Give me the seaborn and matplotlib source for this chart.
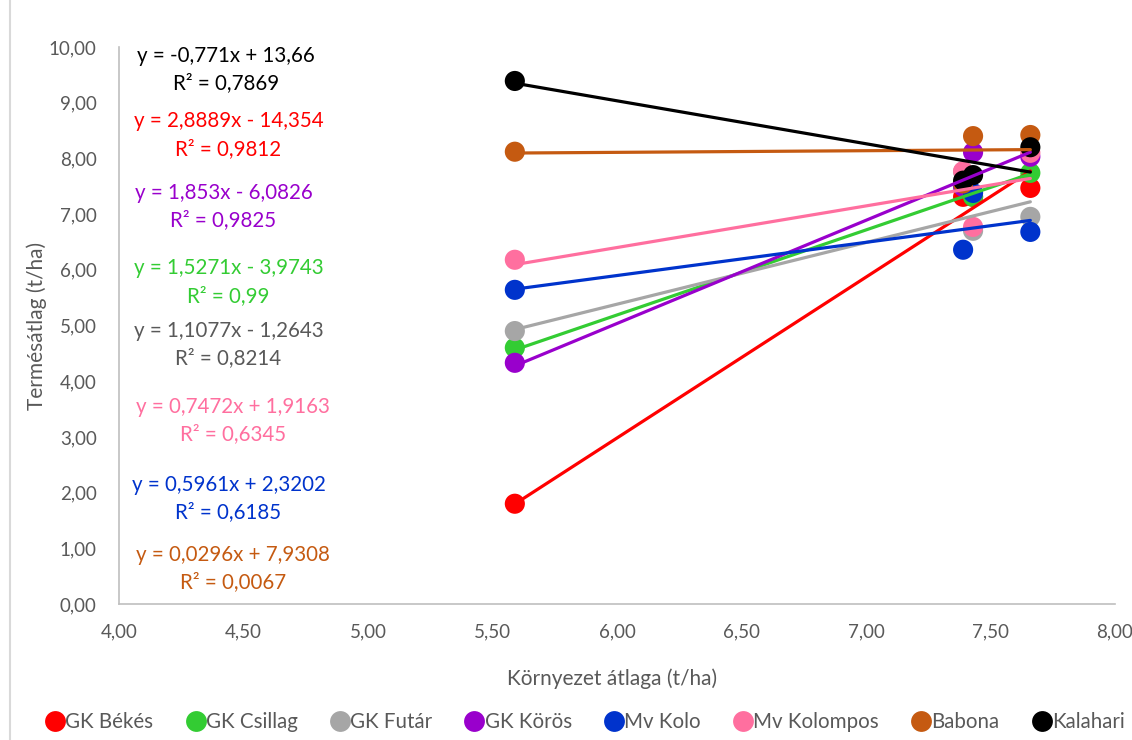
import numpy as np
import pandas as pd
import seaborn as sns
import matplotlib.pyplot as plt
from matplotlib.lines import Line2D
from matplotlib.ticker import FuncFormatter

# environment means (x) and variety yields (y), t/ha
env = [5.59, 7.39, 7.43, 7.66]
fajtak = ['GK Békés', 'GK Csillag', 'GK Futár', 'GK Körös', 'Mv Kolo', 'Mv Kolompos', 'Babona', 'Kalahari']
bekes = [1.80, 7.31, 7.31, 7.47]
csillag = [4.60, 7.50, 7.31, 7.74]
futar = [4.90, 7.76, 6.70, 6.95]
koros = [4.33, 7.49, 8.11, 8.03]
kolo = [5.64, 6.36, 7.38, 6.68]
kolompos = [6.18, 7.77, 6.77, 8.10]
babona = [8.12, 7.55, 8.40, 8.42]
kalahari = [9.39, 7.60, 7.70, 8.20]

# trendline equations shown on chart
meredek = [2.8889, 1.5271, 1.1077, 1.853, 0.5961, 0.7472, 0.0296, -0.771]
tengely = [-14.354, -3.9743, -1.2643, -6.0826, 2.3202, 1.9163, 7.9308, 13.66]
egyenlet = ['y = 2,8889x - 14,354\nR² = 0,9812',
            'y = 1,5271x - 3,9743\nR² = 0,99',
            'y = 1,1077x - 1,2643\nR² = 0,8214',
            'y = 1,853x - 6,0826\nR² = 0,9825',
            'y = 0,5961x + 2,3202\nR² = 0,6185',
            'y = 0,7472x + 1,9163\nR² = 0,6345',
            'y = 0,0296x + 7,9308\nR² = 0,0067',
            'y = -0,771x + 13,66\nR² = 0,7869']

szinek = ['#FF0000', '#33CC33', '#A6A6A6', '#9900CC', '#0033CC', '#FF6F9F', '#C55A11', '#000000']
szoveg_szin = ['#FF0000', '#33CC33', '#595959', '#9900CC', '#0033CC', '#FF6F9F', '#C55A11', '#000000']
# label positions (data coords)
szoveg_x = [4.44, 4.44, 4.44, 4.42, 4.44, 4.46, 4.46, 4.43]
szoveg_y = [8.42, 5.78, 4.65, 7.14, 1.90, 3.29, 0.64, 9.60]

df = pd.DataFrame({
    'x': env * len(fajtak),
    'y': bekes + csillag + futar + koros + kolo + kolompos + babona + kalahari,
    'fajta': np.repeat(fajtak, len(env)),
})

sns.set_style('white')
plt.rcParams['font.family'] = ['Lato', 'DejaVu Sans']

fig = plt.figure(figsize=(11.32, 7.4), dpi=100)
ax = fig.add_axes([0.105, 0.1838, 0.880, 0.7527])

# markers one series at a time so later series sit on top
for i, f in enumerate(fajtak):
    sns.scatterplot(data=df[df['fajta'] == f], x='x', y='y', color=szinek[i],
                    s=210, edgecolor='none', ax=ax, zorder=2 + i * 0.01, legend=False)

# trendlines
for i, f in enumerate(fajtak):
    xs = np.array([min(env), max(env)])
    tr = pd.DataFrame({'x': xs, 'y': meredek[i] * xs + tengely[i]})
    sns.lineplot(data=tr, x='x', y='y', color=szinek[i], lw=2.3, ax=ax, zorder=3)
    ax.text(szoveg_x[i], szoveg_y[i], egyenlet[i], color=szoveg_szin[i], fontsize=14.8,
            ha='center', va='center', linespacing=1.45, zorder=4)

ax.set_xlim(4, 8)
ax.set_ylim(0, 10)
ax.set_xticks(np.arange(4, 8.01, 0.5))
ax.set_yticks(np.arange(0, 10.01, 1))
fmt = FuncFormatter(lambda v, p: f'{v:.2f}'.replace('.', ','))
ax.xaxis.set_major_formatter(fmt)
ax.yaxis.set_major_formatter(fmt)
ax.tick_params(length=0, labelsize=13.5, labelcolor='#595959')
ax.tick_params(axis='y', pad=16)
ax.tick_params(axis='x', pad=14)
sns.despine(ax=ax)
for s in ['left', 'bottom']:
    ax.spines[s].set_color('#BFBFBF')
    ax.spines[s].set_linewidth(1.2)

ax.set_xlabel('Környezet átlaga (t/ha)', fontsize=15, color='#595959')
ax.set_ylabel('Termésátlag (t/ha)', fontsize=15, color='#595959')
ax.xaxis.set_label_coords(0.495, -0.115)
ax.yaxis.set_label_coords(-0.072, 0.5)

kezelok = [Line2D([], [], ls='none', marker='o', ms=15, color=c, mec='none') for c in szinek]
fig.legend(kezelok, fajtak, loc='center', bbox_to_anchor=(0.517, 0.024), ncol=8,
           frameon=False, fontsize=14.8, labelcolor='#595959', handlelength=0.9,
           handletextpad=0.05, columnspacing=1.6)

fig.add_artist(Line2D([0.009, 0.009], [0, 1], transform=fig.transFigure, color='#D9D9D9', lw=1.5))

fig.savefig('out.png', dpi=100)
